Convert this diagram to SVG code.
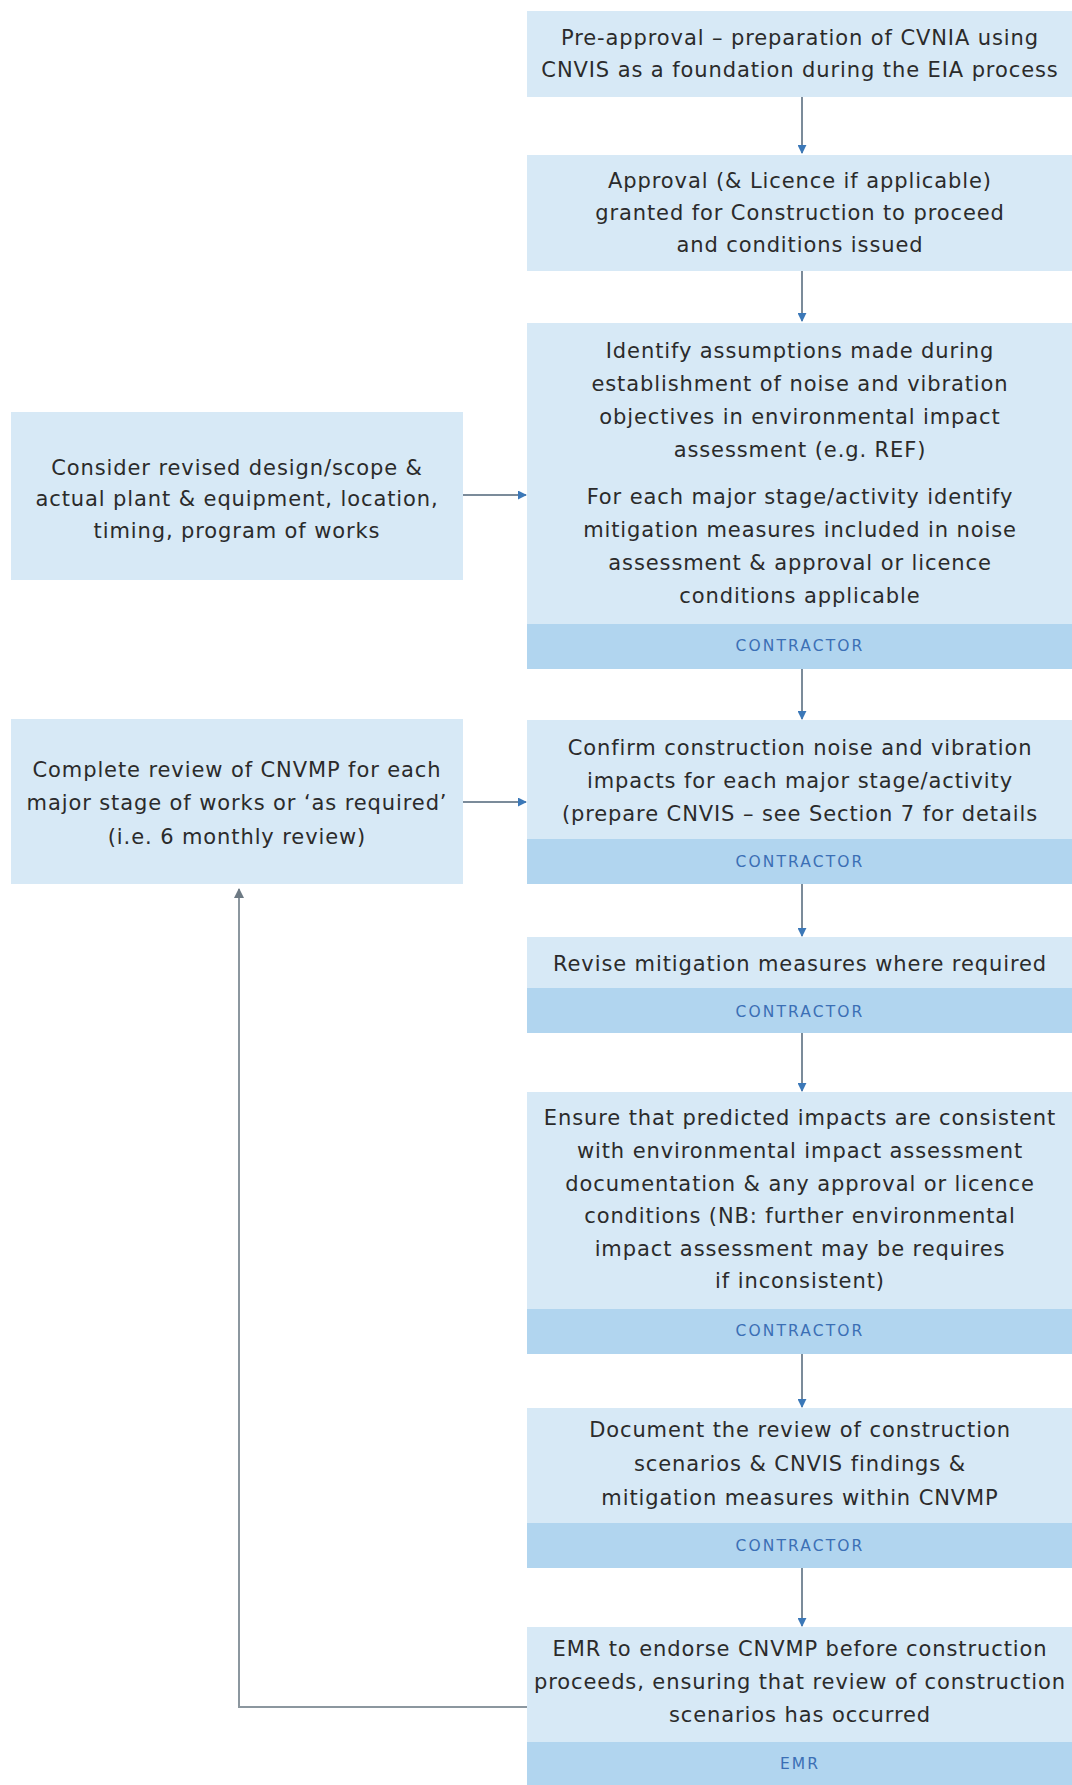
<svg xmlns="http://www.w3.org/2000/svg" width="1072" height="1785" viewBox="0 0 1072 1785">
<style>
.box{fill:#d7e9f6}
.band{fill:#b1d5ef}
.t{font-family:"DejaVu Sans","Liberation Sans",sans-serif;font-size:21px;letter-spacing:0.9px;fill:#2b2b2b;text-anchor:middle}
.r{font-family:"DejaVu Sans","Liberation Sans",sans-serif;font-size:15.5px;letter-spacing:2.1px;fill:#3b6fb5;text-anchor:middle}
.ln{stroke:#4f6478;stroke-width:1.5;fill:none}
.loop{stroke:#8c979f;stroke-width:2;fill:none}
</style>
<defs>
<marker id="ah" viewBox="0 0 10 10" refX="9" refY="5" markerWidth="9" markerHeight="9" orient="auto" markerUnits="userSpaceOnUse">
<path d="M0,0 L10,5 L0,10 z" fill="#3b78b8"/>
</marker>
<marker id="ahg" viewBox="0 0 10 10" refX="9" refY="5" markerWidth="10" markerHeight="10" orient="auto" markerUnits="userSpaceOnUse">
<path d="M0,0 L10,5 L0,10 z" fill="#6d7a84"/>
</marker>
</defs>
<rect width="1072" height="1785" fill="#ffffff"/>

<g id="connectors">
<line class="ln" x1="802" y1="97" x2="802" y2="153" marker-end="url(#ah)"/>
<line class="ln" x1="802" y1="271" x2="802" y2="321" marker-end="url(#ah)"/>
<line class="ln" x1="802" y1="669" x2="802" y2="719" marker-end="url(#ah)"/>
<line class="ln" x1="802" y1="884" x2="802" y2="936" marker-end="url(#ah)"/>
<line class="ln" x1="802" y1="1033" x2="802" y2="1091" marker-end="url(#ah)"/>
<line class="ln" x1="802" y1="1354" x2="802" y2="1407" marker-end="url(#ah)"/>
<line class="ln" x1="802" y1="1568" x2="802" y2="1626" marker-end="url(#ah)"/>
<line class="ln" x1="463" y1="495" x2="526" y2="495" marker-end="url(#ah)"/>
<line class="ln" x1="463" y1="802" x2="526" y2="802" marker-end="url(#ah)"/>
<polyline class="loop" points="527,1707 239,1707 239,889" marker-end="url(#ahg)"/>
</g>

<g id="n1">
<rect class="box" x="527" y="11" width="545" height="86"/>
<text class="t" x="800" y="45">Pre-approval – preparation of CVNIA using</text>
<text class="t" x="800" y="77">CNVIS as a foundation during the EIA process</text>
</g>

<g id="n2">
<rect class="box" x="527" y="155" width="545" height="116"/>
<text class="t" x="800" y="188">Approval (&amp; Licence if applicable)</text>
<text class="t" x="800" y="220">granted for Construction to proceed</text>
<text class="t" x="800" y="252">and conditions issued</text>
</g>

<g id="n3">
<rect class="box" x="527" y="323" width="545" height="346"/>
<rect class="band" x="527" y="624" width="545" height="45"/>
<text class="t" x="800" y="358">Identify assumptions made during</text>
<text class="t" x="800" y="391">establishment of noise and vibration</text>
<text class="t" x="800" y="424">objectives in environmental impact</text>
<text class="t" x="800" y="457">assessment (e.g. REF)</text>
<text class="t" x="800" y="504">For each major stage/activity identify</text>
<text class="t" x="800" y="537">mitigation measures included in noise</text>
<text class="t" x="800" y="570">assessment &amp; approval or licence</text>
<text class="t" x="800" y="603">conditions applicable</text>
<text class="r" x="800" y="651">CONTRACTOR</text>
</g>

<g id="n4">
<rect class="box" x="527" y="720" width="545" height="164"/>
<rect class="band" x="527" y="839" width="545" height="45"/>
<text class="t" x="800" y="755">Confirm construction noise and vibration</text>
<text class="t" x="800" y="788">impacts for each major stage/activity</text>
<text class="t" x="800" y="821">(prepare CNVIS – see Section 7 for details</text>
<text class="r" x="800" y="867">CONTRACTOR</text>
</g>

<g id="n5">
<rect class="box" x="527" y="937" width="545" height="96"/>
<rect class="band" x="527" y="988" width="545" height="45"/>
<text class="t" x="800" y="971">Revise mitigation measures where required</text>
<text class="r" x="800" y="1017">CONTRACTOR</text>
</g>

<g id="n6">
<rect class="box" x="527" y="1092" width="545" height="262"/>
<rect class="band" x="527" y="1309" width="545" height="45"/>
<text class="t" x="800" y="1125">Ensure that predicted impacts are consistent</text>
<text class="t" x="800" y="1158">with environmental impact assessment</text>
<text class="t" x="800" y="1191">documentation &amp; any approval or licence</text>
<text class="t" x="800" y="1223">conditions (NB: further environmental</text>
<text class="t" x="800" y="1256">impact assessment may be requires</text>
<text class="t" x="800" y="1288">if inconsistent)</text>
<text class="r" x="800" y="1336">CONTRACTOR</text>
</g>

<g id="n7">
<rect class="box" x="527" y="1408" width="545" height="160"/>
<rect class="band" x="527" y="1523" width="545" height="45"/>
<text class="t" x="800" y="1437">Document the review of construction</text>
<text class="t" x="800" y="1471">scenarios &amp; CNVIS findings &amp;</text>
<text class="t" x="800" y="1505">mitigation measures within CNVMP</text>
<text class="r" x="800" y="1551">CONTRACTOR</text>
</g>

<g id="n8">
<rect class="box" x="527" y="1627" width="545" height="158"/>
<rect class="band" x="527" y="1742" width="545" height="43"/>
<text class="t" x="800" y="1656">EMR to endorse CNVMP before construction</text>
<text class="t" x="800" y="1689">proceeds, ensuring that review of construction</text>
<text class="t" x="800" y="1722">scenarios has occurred</text>
<text class="r" x="800" y="1769">EMR</text>
</g>

<g id="n9">
<rect class="box" x="11" y="412" width="452" height="168"/>
<text class="t" x="237" y="475">Consider revised design/scope &amp;</text>
<text class="t" x="237" y="506">actual plant &amp; equipment, location,</text>
<text class="t" x="237" y="538">timing, program of works</text>
</g>

<g id="n10">
<rect class="box" x="11" y="719" width="452" height="165"/>
<text class="t" x="237" y="777">Complete review of CNVMP for each</text>
<text class="t" x="237" y="810">major stage of works or ‘as required’</text>
<text class="t" x="237" y="844">(i.e. 6 monthly review)</text>
</g>
</svg>
